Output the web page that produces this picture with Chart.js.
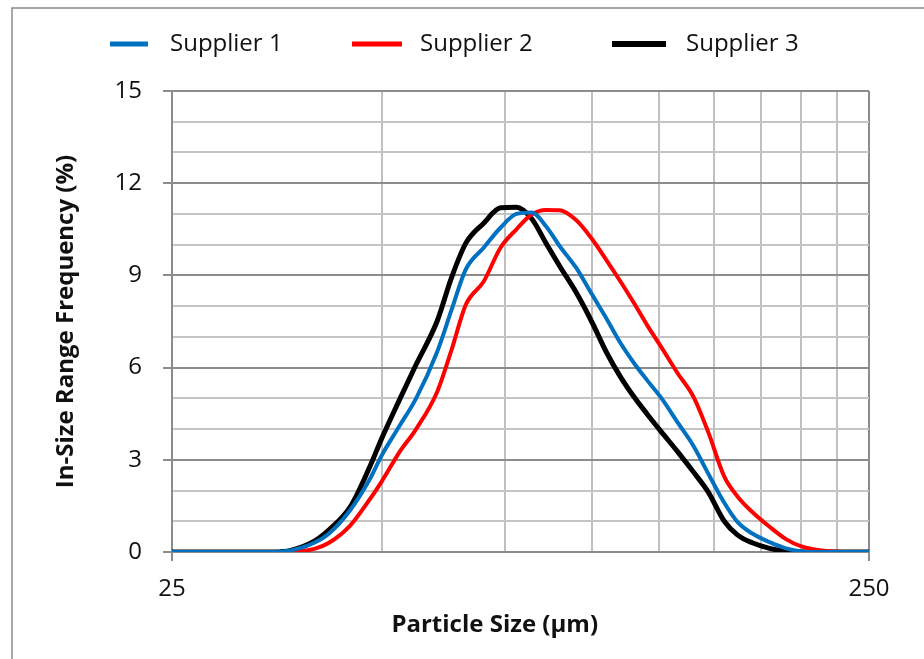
<!DOCTYPE html>
<html><head><meta charset="utf-8">
<script src="https://cdn.jsdelivr.net/npm/chart.js@4.4.1/dist/chart.umd.min.js"></script>
<style>
html,body{margin:0;padding:0;background:#fff;}
#wrap{position:relative;width:924px;height:659px;}
</style></head><body>
<div id="wrap"><canvas id="c" width="924" height="659"></canvas></div>
<script>
// Particle size classes (µm)
const sizes = [25, 30, 35, 37, 40, 42, 45, 48, 50, 53, 56, 60, 63, 66, 70, 74, 78, 82, 86, 90, 95, 100, 105, 110, 115, 120, 126, 133, 140, 147, 155, 162, 170, 180, 190, 200, 212, 225, 250];
// In-size range frequency (%)
const supplier1 = [0, 0, 0, 0.05, 0.3, 0.6, 1.35, 2.35, 3.15, 4.1, 5.0, 6.5, 7.9, 9.2, 9.9, 10.55, 11.0, 11.05, 10.6, 9.95, 9.25, 8.4, 7.6, 6.8, 6.15, 5.6, 5.0, 4.2, 3.45, 2.55, 1.6, 0.97, 0.6, 0.32, 0.12, 0.02, 0, 0, 0];
const supplier2 = [0, 0, 0, 0, 0.1, 0.3, 0.85, 1.7, 2.3, 3.25, 4.0, 5.2, 6.6, 8.05, 8.8, 9.9, 10.5, 10.98, 11.13, 11.12, 10.8, 10.2, 9.5, 8.8, 8.1, 7.4, 6.65, 5.8, 5.05, 3.9, 2.45, 1.8, 1.3, 0.82, 0.42, 0.18, 0.06, 0.01, 0];
const supplier3 = [0, 0, 0, 0.05, 0.35, 0.72, 1.45, 2.75, 3.7, 4.95, 6.1, 7.5, 8.95, 10.05, 10.7, 11.2, 11.22, 10.85, 10.05, 9.3, 8.45, 7.5, 6.5, 5.7, 5.05, 4.5, 3.9, 3.25, 2.6, 1.95, 1.0, 0.55, 0.3, 0.12, 0.03, 0, 0, 0, 0];
const seriesNames = ['Supplier 1', 'Supplier 2', 'Supplier 3'];
const xGridValues = [25, 50, 75, 100, 125, 150, 175, 200, 225, 250];
const xTickLabels = [25, 250];
const yTickLabels = [0, 3, 6, 9, 12, 15];
const xTitle = 'Particle Size (µm)';
const yTitle = 'In-Size Range Frequency (%)';

const FONT = "'Open Sans', 'Liberation Sans', sans-serif";
const toPts = arr => sizes.map((s, i) => ({x: s, y: arr[i]}));

const frame = {
  id: 'frame',
  beforeDraw(chart) {
    const c = chart.ctx;
    c.save();
    c.fillStyle = '#fff';
    c.fillRect(0, 0, chart.width, chart.height);
    c.strokeStyle = '#8a8a8a';
    c.lineWidth = 1.5;
    c.beginPath();
    c.moveTo(12, chart.height);
    c.lineTo(12, 8);
    c.lineTo(chart.width, 8);
    c.stroke();
    c.restore();
  }
};

const legendPos = [{x: 110, w: 38, t: 170}, {x: 352, w: 50, t: 420}, {x: 612, w: 54, t: 686}];
const customLegend = {
  id: 'customLegend',
  afterDraw(chart) {
    const c = chart.ctx;
    c.save();
    c.font = `24px ${FONT}`;
    c.textBaseline = 'middle';
    chart.data.datasets.forEach((ds, i) => {
      const p = legendPos[i];
      c.strokeStyle = ds.borderColor;
      c.lineWidth = ds.borderWidth + 1;
      c.beginPath();
      c.moveTo(p.x, 44);
      c.lineTo(p.x + p.w, 44);
      c.stroke();
      c.fillStyle = '#111';
      c.textAlign = 'left';
      c.fillText(ds.label, p.t, 44);
    });
    const a = chart.chartArea;
    c.font = `bold 24px ${FONT}`;
    c.textAlign = 'center';
    c.fillStyle = '#111';
    c.fillText(xTitle, a.left + (a.right - a.left) * 0.463, 625);
    c.restore();
  }
};

new Chart(document.getElementById('c'), {
  type: 'line',
  data: {
    datasets: [
      {label: seriesNames[0], data: toPts(supplier1), borderColor: '#0070C0', borderWidth: 4},
      {label: seriesNames[1], data: toPts(supplier2), borderColor: '#FF0000', borderWidth: 4},
      {label: seriesNames[2], data: toPts(supplier3), borderColor: '#000000', borderWidth: 5}
    ]
  },
  options: {
    responsive: false,
    animation: false,
    devicePixelRatio: 1,
    layout: {padding: {top: 91, right: 55, bottom: 0, left: 0}},
    elements: {point: {radius: 0}, line: {cubicInterpolationMode: 'monotone', fill: false}},
    plugins: {legend: {display: false}, tooltip: {enabled: false}},
    scales: {
      x: {
        type: 'logarithmic', min: 25, max: 250,
        afterBuildTicks: s => { s.ticks = xGridValues.map(v => ({value: v})); },
        afterFit: s => { s.height = 107; },
        ticks: {autoSkip: false, maxRotation: 0, padding: 14, color: '#111', font: {family: FONT, size: 24},
          callback: v => xTickLabels.includes(v) ? String(v) : ''},
        grid: {
          color: ctx => (ctx.tick && ctx.tick.value === 250) ? '#8c8c8c' : '#c0c0c0',
          lineWidth: 2, tickLength: 9, tickWidth: 2,
          tickColor: ctx => (ctx.tick && xTickLabels.includes(ctx.tick.value)) ? '#8c8c8c' : 'rgba(0,0,0,0)'
        },
        border: {color: '#8c8c8c', width: 2},
        title: {display: false}
      },
      y: {
        min: 0, max: 15,
        afterFit: s => { s.width = 172; },
        ticks: {stepSize: 1, autoSkip: false, padding: 21, color: '#111', font: {family: FONT, size: 24},
          callback: v => yTickLabels.includes(v) ? String(v) : ''},
        grid: {
          color: ctx => (ctx.tick && ctx.tick.value % 3 === 0) ? '#8c8c8c' : '#c4c4c4',
          lineWidth: 2, tickLength: 9, tickWidth: 2,
          tickColor: ctx => (ctx.tick && ctx.tick.value % 3 === 0) ? '#8c8c8c' : 'rgba(0,0,0,0)'
        },
        border: {color: '#8c8c8c', width: 2},
        title: {display: true, text: yTitle, color: '#111', font: {family: FONT, size: 24, weight: 'bold'}, padding: {top: 52, bottom: 0}}
      }
    }
  },
  plugins: [frame, customLegend]
});
</script>
</body></html>
